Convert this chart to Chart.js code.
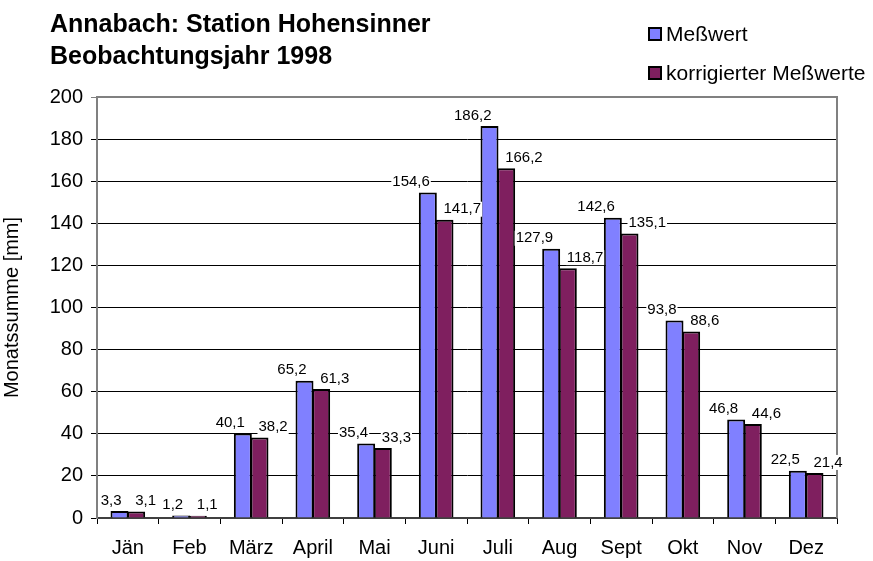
<!DOCTYPE html>
<html>
<head>
<meta charset="utf-8">
<script src="https://cdn.jsdelivr.net/npm/chart.js@4/dist/chart.umd.min.js"></script>
<style>
  html, body { margin: 0; padding: 0; background: #fff; }
  #wrap { width: 873px; height: 561px; position: relative; }
</style>
</head>
<body>
<div id="wrap"><canvas id="chart"></canvas></div>
<script>
var months = ['Jän', 'Feb', 'März', 'April', 'Mai', 'Juni', 'Juli', 'Aug', 'Sept', 'Okt', 'Nov', 'Dez'];
var messwert = [3.3, 1.2, 40.1, 65.2, 35.4, 154.6, 186.2, 127.9, 142.6, 93.8, 46.8, 22.5];
var korrigiert = [3.1, 1.1, 38.2, 61.3, 33.3, 141.7, 166.2, 118.7, 135.1, 88.6, 44.6, 21.4];
var titleLines = ['Annabach: Station Hohensinner', 'Beobachtungsjahr 1998'];
var yTitle = 'Monatssumme [mm]';

var FONT = '"Liberation Sans", Arial, sans-serif';

function fmt(v) {
  return String(v).replace('.', ',');
}

// Titel, Legende, Rahmen und Datenbeschriftungen
var excelLook = {
  id: 'excelLook',
  beforeDatasetsDraw: function (chart) {
    var ctx = chart.ctx;
    var a = chart.chartArea;
    ctx.save();
    ctx.strokeStyle = '#808080';
    ctx.lineWidth = 2;
    ctx.beginPath();
    ctx.moveTo(a.left, a.top);
    ctx.lineTo(a.right, a.top);
    ctx.lineTo(a.right, a.bottom);
    ctx.stroke();
    ctx.restore();
  },
  afterDatasetsDraw: function (chart) {
    var ctx = chart.ctx;
    ctx.save();
    ctx.font = '15px ' + FONT;
    ctx.textBaseline = 'bottom';
    chart.data.datasets.forEach(function (ds, di) {
      var meta = chart.getDatasetMeta(di);
      meta.data.forEach(function (bar, i) {
        var txt = fmt(ds.data[i]);
        var w = ctx.measureText(txt).width;
        var x = di === 0 ? bar.x + 2 - w : bar.x - 1;
        var y = bar.y - 3;
        ctx.fillStyle = '#fff';
        ctx.fillRect(x - 1, y - 15, w + 2, 15);
        ctx.fillStyle = '#000';
        ctx.textAlign = 'left';
        ctx.fillText(txt, x, y);
      });
    });
    ctx.restore();
  },
  afterDraw: function (chart) {
    var ctx = chart.ctx;
    ctx.save();
    ctx.fillStyle = '#000';
    ctx.font = 'bold 25px ' + FONT;
    ctx.textBaseline = 'alphabetic';
    ctx.fillText(titleLines[0], 50, 32);
    ctx.fillText(titleLines[1], 50, 64);

    ctx.font = '21px ' + FONT;
    chart.data.datasets.forEach(function (ds, di) {
      var y = 41 + di * 39;
      ctx.fillStyle = ds.backgroundColor;
      ctx.fillRect(649, y - 13, 12, 12);
      ctx.strokeStyle = '#000';
      ctx.lineWidth = 2;
      ctx.strokeRect(649, y - 13, 12, 12);
      ctx.fillStyle = '#000';
      ctx.fillText(ds.label, 666, y);
    });
    ctx.restore();
  }
};

var ctx = document.getElementById('chart');
var chart = new Chart(ctx, {
  type: 'bar',
  data: {
    labels: months,
    datasets: [
      {
        label: 'Meßwert',
        data: messwert,
        backgroundColor: '#8080FF',
        borderColor: '#000',
        borderWidth: 2,
        borderSkipped: 'bottom'
      },
      {
        label: 'korrigierter Meßwerte',
        data: korrigiert,
        backgroundColor: '#7F1F5F',
        borderColor: '#000',
        borderWidth: 2,
        borderSkipped: 'bottom'
      }
    ]
  },
  options: {
    responsive: true,
    maintainAspectRatio: false,
    animation: false,
    categoryPercentage: 0.54,
    barPercentage: 1.08,
    layout: { padding: { top: 97, right: 36, left: 0, bottom: 0 } },
    plugins: {
      legend: { display: false },
      title: { display: false },
      tooltip: { enabled: false }
    },
    scales: {
      x: {
        offset: true,
        grid: {
          offset: true,
          drawOnChartArea: false,
          drawTicks: true,
          tickLength: 6,
          color: '#000'
        },
        border: { color: '#404040', width: 2 },
        ticks: {
          color: '#000',
          font: { family: FONT, size: 20 },
          padding: 12
        },
        afterFit: function (scale) { scale.height = 43; }
      },
      y: {
        min: 0,
        max: 200,
        grid: {
          color: function (c) { return c.tick && c.tick.value === 200 ? '#808080' : '#000'; },
          lineWidth: 1,
          drawTicks: true,
          tickLength: 6
        },
        border: { color: '#808080', width: 2 },
        ticks: {
          stepSize: 20,
          color: '#000',
          font: { family: FONT, size: 20 },
          padding: 8
        },
        title: {
          display: true,
          text: yTitle,
          color: '#000',
          font: { family: FONT, size: 20 },
          padding: { top: 0, bottom: 6 }
        },
        afterFit: function (scale) { scale.width = 97; }
      }
    }
  },
  plugins: [excelLook]
});
</script>
</body>
</html>
